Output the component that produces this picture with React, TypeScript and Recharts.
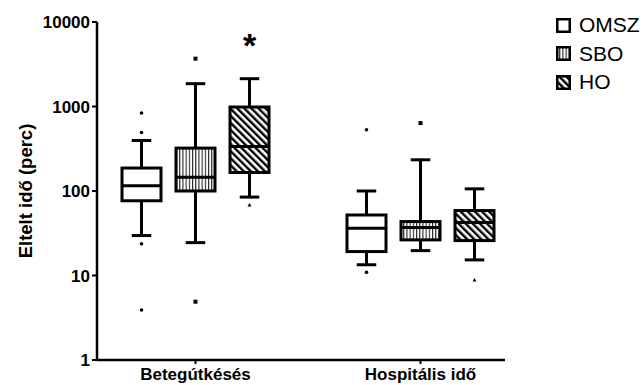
import React from 'react';
import { ComposedChart, Bar, XAxis, YAxis, Legend, Label } from 'recharts';

const groups = ['Betegútkésés', 'Hospitális idő'];
const seriesNames = ['OMSZ', 'SBO', 'HO'];
// [whiskerLow, q1, median, q3, whiskerHigh]
const omszBox = [[29.7, 76.6, 115, 187, 396], [13.4, 19.2, 36.3, 52, 100]];
const sboBox = [[24.5, 100, 145, 322, 1862], [19.7, 26.4, 37, 43.5, 234]];
const hoBox = [[84.7, 165.6, 337, 986, 2134], [15.3, 25.9, 42.4, 58.7, 106]];
const omszOutliers = [[837, 493, 23.7, 3.9], [531, 10.9]];
const sboOutliers = [[3683, 4.9], [637]];
const hoOutliers = [[68.6], [8.9]];
const hoSignificance = ['*', ''];
const hoSignificanceLevel = [5200, 0];
const yTicks = [1, 10, 100, 1000, 10000];

const FONT = '"Liberation Sans", Arial, sans-serif';

type Stat = { box: number[]; out: number[]; sig: string; sigLevel: number };

const mk = (box: number[][], out: number[][], sig?: string[], lvl?: number[]) => (i: number): Stat => ({
  box: box[i],
  out: out[i],
  sig: sig ? sig[i] : '',
  sigLevel: lvl ? lvl[i] : 0,
});
const getOmsz = mk(omszBox, omszOutliers);
const getSbo = mk(sboBox, sboOutliers);
const getHo = mk(hoBox, hoOutliers, hoSignificance, hoSignificanceLevel);

const data = groups.map((g, i) => ({ group: g, OMSZ: getOmsz(i), SBO: getSbo(i), HO: getHo(i) }));

const rangeOf = (s: Stat) => {
  const all = [...s.box, ...s.out];
  if (s.sig && s.sigLevel > 0) all.push(s.sigLevel);
  return [Math.min(...all), Math.max(...all)];
};

const fillFor = (name: string) => (name === 'OMSZ' ? '#ffffff' : `url(#pat-${name})`);

const Patterns = () => (
  <defs>
    <pattern id="pat-SBO" patternUnits="userSpaceOnUse" width="3.2" height="6">
      <rect width="3.2" height="6" fill="#fff" />
      <rect x="0" width="1.1" height="6" fill="#222" />
    </pattern>
    <pattern id="pat-HO" patternUnits="userSpaceOnUse" width="5" height="5" patternTransform="rotate(-45)">
      <rect width="5" height="5" fill="#fff" />
      <rect x="0" width="2.4" height="5" fill="#000" />
    </pattern>
  </defs>
);

const makeShape = (name: string) => (props: any) => {
  const { x, y, width, height, payload } = props;
  const s: Stat = payload[name];
  const [lo, hi] = rangeOf(s);
  const top = Math.min(y, y + height);
  const bot = Math.max(y, y + height);
  const yOf = (v: number) => top + ((bot - top) * (Math.log10(hi) - Math.log10(v))) / (Math.log10(hi) - Math.log10(lo));
  const [wl, q1, med, q3, wh] = s.box;
  const cx = x + width / 2;
  const cap = width / 2;
  const sw = 3;
  return (
    <g>
      {name !== 'OMSZ' && <Patterns />}
      <line x1={cx} x2={cx} y1={yOf(wh)} y2={yOf(q3)} stroke="#000" strokeWidth={sw} />
      <line x1={cx} x2={cx} y1={yOf(q1)} y2={yOf(wl)} stroke="#000" strokeWidth={sw} />
      <line x1={cx - cap / 2} x2={cx + cap / 2} y1={yOf(wh)} y2={yOf(wh)} stroke="#000" strokeWidth={sw} />
      <line x1={cx - cap / 2} x2={cx + cap / 2} y1={yOf(wl)} y2={yOf(wl)} stroke="#000" strokeWidth={sw} />
      <rect x={x} y={yOf(q3)} width={width} height={yOf(q1) - yOf(q3)} fill={fillFor(name)} stroke="#000" strokeWidth={sw} />
      <line x1={x} x2={x + width} y1={yOf(med)} y2={yOf(med)} stroke="#000" strokeWidth={sw} />
      {s.out.map((v, k) => {
        const oy = yOf(v);
        if (name === 'OMSZ') return <circle key={k} cx={cx} cy={oy} r={1.8} fill="#000" />;
        if (name === 'SBO') return <rect key={k} x={cx - 2} y={oy - 2} width={4} height={4} fill="#000" />;
        return <path key={k} d={`M${cx - 2},${oy + 1.7} L${cx + 2},${oy + 1.7} L${cx},${oy - 1.8} Z`} fill="#000" />;
      })}
      {s.sig && s.sigLevel > 0 && (
        <text x={cx} y={yOf(s.sigLevel) + 11} textAnchor="middle" fontFamily={FONT} fontWeight="bold" fontSize={34} fill="#000">
          {s.sig}
        </text>
      )}
    </g>
  );
};

const LegendIcon = ({ name }: { name: string }) => (
  <svg width={15} height={15} style={{ display: 'block' }}>
    <Patterns />
    <rect x={1.25} y={1.25} width={12.5} height={12.5} fill={name === 'OMSZ' ? '#fff' : `url(#pat-${name})`} stroke="#000" strokeWidth={2.5} />
  </svg>
);

const renderLegend = () => (
  <div style={{ fontFamily: FONT, fontSize: 21, color: '#000', lineHeight: '28px' }}>
    {seriesNames.map((n) => (
      <div key={n} style={{ display: 'flex', alignItems: 'center', height: 28.5 }}>
        <LegendIcon name={n} />
        <span style={{ marginLeft: 8 }}>{n}</span>
      </div>
    ))}
  </div>
);

export default function App() {
  return (
    <div style={{ position: 'absolute', left: 0, top: 0, background: '#fff' }}>
      <ComposedChart
        width={643}
        height={385}
        data={data}
        margin={{ top: 22, right: 138, bottom: 0, left: 0 }}
        barSize={39}
        barGap={15}
      >
        <XAxis
          dataKey="group"
          padding={{ left: -14, right: -28 }}
          axisLine={{ stroke: '#000', strokeWidth: 2.5 }}
          tickLine={{ stroke: '#000', strokeWidth: 2 }}
          tickSize={4}
          tickMargin={4}
          tick={{ fill: '#000', fontFamily: FONT, fontWeight: 'bold', fontSize: 17 }}
          height={25}
          interval={0}
        />
        <YAxis
          scale="log"
          domain={[1, 10000]}
          ticks={yTicks}
          allowDataOverflow
          width={97}
          axisLine={{ stroke: '#000', strokeWidth: 2.5 }}
          tickLine={{ stroke: '#000', strokeWidth: 2 }}
          tickSize={5}
          tick={{ fill: '#000', fontFamily: FONT, fontWeight: 'bold', fontSize: 17 }}
        >
          <Label
            value="Eltelt idő (perc)"
            angle={-90}
            position="insideLeft"
            offset={25}
            style={{ fill: '#000', fontFamily: FONT, fontWeight: 'bold', fontSize: 18.5, textAnchor: 'middle' }}
          />
        </YAxis>
        <Legend
          content={renderLegend}
          layout="horizontal"
          verticalAlign="middle"
          align="center"
          wrapperStyle={{ top: 11, left: 556, width: 90 }}
        />
        {seriesNames.map((n) => (
          <Bar key={n} dataKey={(row: any) => rangeOf(row[n])} name={n} shape={makeShape(n)} isAnimationActive={false} />
        ))}
      </ComposedChart>
    </div>
  );
}
